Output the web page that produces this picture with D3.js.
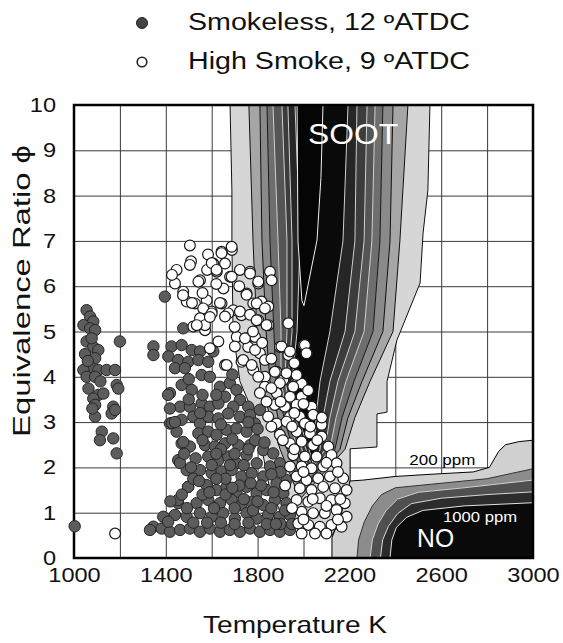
<!DOCTYPE html>
<html>
<head>
<meta charset="utf-8">
<script src="https://cdn.jsdelivr.net/npm/d3@7"></script>
<style>
  body { margin: 0; background: #fff; }
  text { font-family: "Liberation Sans", Arial, sans-serif; }
</style>
</head>
<body>
<div id="chart"></div>
<script>
// tick labels and grid
var xTicks = [1000, 1400, 1800, 2200, 2600, 3000];
var yTicks = [0, 1, 2, 3, 4, 5, 6, 7, 8, 9, 10];
var xGrid = [1200, 1400, 1600, 1800, 2000, 2200, 2400, 2600, 2800];
var yGrid = [1, 2, 3, 4, 5, 6, 7, 8, 9];
var legendLabels = ["Smokeless, 12 \u00baATDC", "High Smoke, 9 \u00baATDC"];

// soot contours [T, phi], outer -> inner
var sootLevels = [
  [[1680,10],[1688,8.1],[1688,7],[1693,5],[1723,3.9],[1789,3.1],[1819,2.4],[1850,1.6],[1900,1.0],[2000,0.75],[2124,0.5],[2190,1.1],[2203,1.72],[2203,2.41],[2320,2.45],[2320,3.18],[2364,3.22],[2364,3.9],[2407,4.81],[2420,4.97],[2508,6.07],[2521,7.17],[2542,8.12],[2551,10]],
  [[1762,10],[1780,7],[1797,5],[1819,3.9],[1854,3.1],[1898,2.4],[1985,1.3],[2181,2.4],[2224,3.1],[2290,3.9],[2390,5],[2420,7],[2455,10]],
  [[1810,10],[1819,7],[1837,5],[1854,3.9],[1889,3.1],[1928,2.4],[1998,1.45],[2159,2.4],[2194,3.1],[2255,3.9],[2346,5],[2377,7],[2390,10]],
  [[1841,10],[1854,7],[1871,5],[1880,3.9],[1915,3.1],[1954,2.4],[2011,1.6],[2137,2.4],[2168,3.1],[2220,3.9],[2303,5],[2333,7],[2346,10]],
  [[1867,10],[1889,7],[1902,5],[1902,3.9],[1932,3.1],[1976,2.4],[2020,1.75],[2115,2.4],[2142,3.1],[2185,3.9],[2264,5],[2298,7],[2312,10]],
  [[1906,10],[1928,7],[1928,5],[1919,3.9],[1950,3.1],[1993,2.4],[2028,1.9],[2094,2.4],[2115,3.1],[2150,3.9],[2224,5],[2264,7],[2277,10]],
  [[1932,10],[1950,7],[1950,5],[1932,3.9],[1963,3.1],[2011,2.4],[2037,2.0],[2072,2.4],[2085,3.1],[2115,3.9],[2181,5],[2224,7],[2233,10]],
  [[1963,10],[1985,7],[1972,5],[1950,3.9],[1976,3.1],[2024,2.4],[2041,2.1],[2050,2.4],[2054,3.1],[2072,3.9],[2115,5],[2172,7],[2194,10]],
  [[1972,10],[1976,7],[1993,5.68],[2002,5.57],[2015,5.9],[2059,7.02],[2076,8.4],[2085,10]]
];
var sootFill = ["#d6d6d6", "#a6a6a6", "#8a8a8a", "#6e6e6e", "#555555", "#3c3c3c", "#262626", "#0a0a0a", "#050505"];
var sootStroke = ["#111", "#111", "#111", "#1a1a1a", "#cfcfcf", "#cfcfcf", "#cfcfcf", "#cfcfcf", "#f0f0f0"];

// NO contours [T, phi], outer -> inner
var noLevels = [
  [[2124,0],[2124,0.45],[2160,0.9],[2203,1.7],[2260,1.72],[2400,1.8],[2560,1.85],[2740,1.9],[2810,2.0],[2850,2.35],[2880,2.5],[2940,2.57],[3000,2.6],[3000,0]],
  [[2233,0],[2240,0.4],[2265,0.8],[2300,1.15],[2340,1.4],[2400,1.55],[2600,1.65],[2800,1.75],[3000,1.97],[3000,0]],
  [[2290,0],[2300,0.4],[2325,0.75],[2360,1.05],[2410,1.3],[2500,1.45],[2700,1.55],[3000,1.72],[3000,0]],
  [[2335,0],[2345,0.4],[2370,0.7],[2410,0.98],[2470,1.2],[2600,1.32],[2800,1.4],[3000,1.46],[3000,0]],
  [[2377,0],[2385,0.4],[2405,0.68],[2450,0.9],[2520,1.05],[2700,1.15],[3000,1.22],[3000,0]]
];
var noFill = ["#d0d0d0", "#8c8c8c", "#505050", "#2c2c2c", "#0a0a0a"];
var noStroke = ["#000", "#333", "#d0d0d0", "#d8d8d8", "#e0e0e0"];

// Smokeless, 12 ATDC  [T K, phi]
var smokeless = [
  [1003,0.7],[1055,5.47],[1070,5.33],[1084,5.22],[1041,5.14],[1070,5.07],[1092,5.03],[1055,4.78],[1084,4.66],
  [1106,4.59],[1092,4.41],[1070,4.22],[1041,4.15],[1106,4.15],[1142,4.15],[1179,4.15],[1055,4.0],[1092,4.0],
  [1186,3.82],[1063,3.74],[1106,3.6],[1084,3.52],[1128,3.63],[1092,3.38],[1171,3.34],[1092,3.12],[1164,3.19],
  [1179,3.27],[1121,2.79],[1113,2.6],[1171,2.64],[1186,2.31],[1200,4.78],[1193,3.74],[1048,4.5],[1077,4.85],
  [1115,3.9],[1080,3.3],[1060,4.35],
  [1396,5.77],[1476,5.07],[1346,4.67],[1346,4.48],
  [1425,4.67],[1469,4.70],[1513,4.59],[1549,4.56],[1411,4.45],[1454,4.37],[1498,4.33],[1542,4.37],[1585,4.33],
  [1440,4.19],[1483,4.19],[1607,4.56],[1556,4.04],[1592,4.0],[1469,3.82],[1513,3.71],[1418,3.64],[1636,3.78],
  [1679,3.86],[1708,3.71],[1658,3.56],[1462,3.34],[1505,3.34],[1556,3.41],[1592,3.34],[1629,3.41],[1723,3.49],
  [1759,3.34],[1694,3.34],[1418,2.97],[1469,3.05],[1520,3.12],[1549,2.97],[1585,3.12],[1629,3.08],[1672,3.19],
  [1723,3.12],[1767,3.16],[1810,3.27],[1447,2.79],[1542,2.75],[1585,2.79],[1621,2.72],[1665,2.83],[1708,2.86],
  [1752,2.79],[1788,2.97],[1469,2.53],[1505,2.46],[1571,2.49],[1614,2.46],[1658,2.53],[1716,2.49],[1767,2.49],
  [1825,2.38],[1868,2.31],[1454,2.16],[1585,2.24],[1629,2.16],[1672,2.24],[1708,2.09],[1752,2.27],[1796,2.09],
  [1897,2.09],[1854,2.02],[1491,1.94],[1549,1.94],[1600,1.87],[1643,1.91],[1687,1.94],[1730,1.80],[1774,1.87],
  [1825,1.80],[1926,1.72],[1883,1.65],[1498,1.57],[1578,1.61],[1621,1.50],[1665,1.57],[1708,1.46],[1752,1.57],
  [1796,1.43],[1839,1.50],[1912,1.43],[1454,1.21],[1534,1.21],[1585,1.28],[1636,1.21],[1687,1.28],[1730,1.17],
  [1774,1.24],[1825,1.17],[1875,1.28],[1926,1.21],[1389,0.91],[1440,0.95],[1491,0.91],[1549,0.99],[1600,0.91],
  [1650,0.99],[1701,0.87],[1752,0.99],[1796,0.87],[1846,0.95],[1897,0.91],[1941,0.95],[1346,0.69],[1382,0.65],
  [1418,0.58],[1462,0.62],[1505,0.65],[1549,0.58],[1592,0.65],[1636,0.58],[1679,0.62],[1723,0.58],[1767,0.65],
  [1810,0.58],[1854,0.62],[1897,0.58],[1941,0.62],[1331,0.62],[1410,3.6],[1427,2.98],[1476,2.56],[1462,2.1],
  [1497,1.57],[1453,1.28],[1492,1.10],[1418,3.30],[1520,1.75],[1560,1.4],[1610,1.1],[1660,1.75],[1700,2.3],
  [1740,2.05],[1790,2.6],[1815,1.6],[1860,1.1],[1900,0.75],[1530,2.2],[1600,2.05],[1560,2.6],[1640,2.95],
  [1690,2.62],[1740,1.3],[1780,1.05],[1840,0.75],[1700,1.1],[1620,1.75],[1520,0.78],[1580,0.78],[1640,0.78],
  [1700,0.75],[1760,0.78],[1620,3.6],[1560,3.6],[1500,3.95],
  [1760,3.0],[1800,2.85],[1830,2.55],[1480,2.3],[1510,2.0],[1545,1.7],[1590,1.45],[1660,1.4],[1720,1.6],
  [1770,1.65],[1870,1.45],[1900,1.9],[1860,1.85],[1420,1.25],[1410,0.8],[1470,1.4],[1640,2.4],[1680,2.05],
  [1760,2.4],[1620,2.3],[1550,3.2],[1500,3.5],[1440,3.0],[1690,1.55],[1800,1.25],[1880,0.75],[1950,0.75],
  [1920,1.05],[1690,4.05]
];

// High Smoke, 9 ATDC  [T K, phi]
var highSmoke = [
  [1179,0.54],
  [1505,6.9],[1510,6.55],[1584,6.7],[1580,6.36],[1658,6.5],[1688,6.8],[1687,6.87],[1643,6.76],[1607,6.50],
  [1622,6.32],[1549,6.13],[1723,6.36],[1767,6.32],[1854,6.32],[1861,6.13],[1803,6.06],[1680,6.21],[1651,5.95],
  [1578,5.69],[1643,5.62],[1694,5.47],[1600,5.44],[1563,5.25],[1752,5.84],[1781,5.62],[1817,5.66],[1847,5.55],
  [1730,5.36],[1803,5.25],[1847,5.14],[1571,5.03],[1709,4.88],[1752,4.85],[1789,4.88],[1759,4.66],[1810,4.52],
  [1897,4.66],[1934,4.48],[2000,4.7],[2014,4.52],[1934,5.18],[1730,4.33],[1781,4.15],[1832,4.0],[1883,4.11],
  [1912,3.93],[1970,4.0],[1992,3.85],[1658,4.26],
  [1447,6.36],[1505,6.47],[1600,6.51],[1440,6.06],[1476,5.88],[1542,6.10],[1621,6.36],[1643,6.73],[1491,5.66],
  [1527,5.62],[1563,5.51],[1600,5.40],[1549,5.29],[1520,5.11],[1571,5.14],[1687,6.21],[1767,6.28],[1803,6.10],
  [1752,5.81],[1796,5.62],[1832,5.51],[1723,5.44],[1767,5.37],[1672,5.40],[1658,5.33],[1796,5.25],[1839,5.14],
  [1629,4.78],[1592,4.63],[1701,4.67],[1745,4.85],[1789,4.59],[1832,4.37],[1737,4.37],[1774,4.26],[1665,4.26],
  [1904,4.67],[1941,4.56],[2006,4.70],[2013,4.52],[1875,4.11],[1926,4.08],[1970,4.04],[1803,4.0],[1832,3.78],
  [1897,3.86],[1955,3.78],[1883,3.64],[1941,3.56],[1992,3.56],[1810,3.64],[1875,3.38],[1919,3.34],[1970,3.38],
  [2035,3.34],[2042,3.16],[1984,3.12],[1941,3.12],[1883,2.97],[1926,3.01],[2006,2.97],[2079,2.94],[1970,2.79],
  [2028,2.75],[2079,2.68],[1897,2.72],[1941,2.53],[1992,2.57],[2042,2.49],[2108,2.46],[1955,2.27],[2006,2.24],
  [2057,2.24],[2122,2.27],[1941,2.02],[1992,2.02],[2035,1.98],[2086,2.02],[2144,2.09],[1970,1.80],[2013,1.72],
  [2064,1.76],[2115,1.80],[2173,1.76],[1984,1.54],[2035,1.50],[2086,1.57],[2137,1.54],[2188,1.50],[1970,1.28],
  [2021,1.24],[2071,1.32],[2122,1.28],[2180,1.21],[1992,1.02],[2042,0.99],[2093,0.99],[2144,1.06],[2188,0.91],
  [1977,0.76],[2021,0.73],[2071,0.69],[2122,0.73],[2166,0.69],[1992,0.54],[2050,0.54],[2100,0.54],[1839,3.45],
  [1846,3.12],[1427,6.25],[1475,5.8],[1514,5.63],[1592,5.32],[1636,5.63],[1535,5.14],
  [1860,3.75],[1900,3.45],[1960,3.2],[2000,3.4],[2020,3.7],[1860,2.9],[1910,2.6],[1960,2.4],[2060,2.6],
  [2100,2.1],[2150,1.9],[2160,1.3],[2150,0.85],[2000,1.9],[2040,1.3],[2000,0.85],[2100,1.15],[1950,1.1],
  [1920,1.6],[1950,2.9],[2030,2.9],[2080,3.1],[1780,5.0],[1700,5.1],[1720,6.0],[1560,5.85],[1620,6.05],
  [1820,4.75],[1860,4.4],[1960,4.3]
];

// svg container
var svgWidth = 563;
var svgHeight = 643;

var margin = { top: 105, right: 30, bottom: 85, left: 74 };
var chartWidth = svgWidth - margin.left - margin.right;
var chartHeight = svgHeight - margin.top - margin.bottom;

var svg = d3.select("#chart")
  .append("svg")
  .attr("width", svgWidth)
  .attr("height", svgHeight);

var chartGroup = svg.append("g")
  .attr("transform", `translate(${margin.left}, ${margin.top})`);

var xScale = d3.scaleLinear().domain([1000, 3000]).range([0, chartWidth]);
var yScale = d3.scaleLinear().domain([0, 10]).range([chartHeight, 0]);

// make text a bit wider, like the original typeface
function stretch(sel, k) {
  sel.each(function() {
    var w = this.getComputedTextLength();
    d3.select(this).attr("textLength", w * k).attr("lengthAdjust", "spacingAndGlyphs");
  });
}

chartGroup.append("defs").append("clipPath").attr("id", "plotClip")
  .append("rect").attr("width", chartWidth).attr("height", chartHeight);

// grid lines
var gx = chartGroup.append("g")
  .attr("transform", `translate(0, ${chartHeight})`)
  .call(d3.axisBottom(xScale).tickValues(xGrid).tickSize(-chartHeight).tickFormat(""));
var gy = chartGroup.append("g")
  .call(d3.axisLeft(yScale).tickValues(yGrid).tickSize(-chartWidth).tickFormat(""));
[gx, gy].forEach(function(g) {
  g.select(".domain").remove();
  g.selectAll("line").attr("stroke", "#3a3a3a").attr("stroke-width", 1);
});

var contourLine = d3.line()
  .x(d => xScale(d[0]))
  .y(d => yScale(d[1]));

var maps = chartGroup.append("g").attr("clip-path", "url(#plotClip)");

maps.selectAll(".soot")
  .data(sootLevels)
  .enter().append("path")
  .attr("class", "soot")
  .attr("d", d => contourLine(d) + "Z")
  .attr("fill", (d, i) => sootFill[i])
  .attr("stroke", (d, i) => sootStroke[i])
  .attr("stroke-width", 1);

maps.selectAll(".no")
  .data(noLevels)
  .enter().append("path")
  .attr("class", "no")
  .attr("d", d => contourLine(d) + "Z")
  .attr("fill", (d, i) => noFill[i])
  .attr("stroke", (d, i) => noStroke[i])
  .attr("stroke-width", 1);

// map labels
var mapLabels = chartGroup.append("g");
mapLabels.append("text").text("SOOT")
  .attr("x", xScale(2020)).attr("y", yScale(9.13))
  .attr("font-size", 30).attr("fill", "#fff")
  .attr("textLength", 90).attr("lengthAdjust", "spacingAndGlyphs");
mapLabels.append("text").text("200 ppm")
  .attr("x", xScale(2461)).attr("y", yScale(2.05))
  .attr("font-size", 15).attr("fill", "#000")
  .attr("textLength", 66).attr("lengthAdjust", "spacingAndGlyphs");
mapLabels.append("text").text("1000 ppm")
  .attr("x", xScale(2608)).attr("y", yScale(0.8))
  .attr("font-size", 15).attr("fill", "#fff")
  .attr("textLength", 74).attr("lengthAdjust", "spacingAndGlyphs");
mapLabels.append("text").text("NO")
  .attr("x", xScale(2495)).attr("y", yScale(0.24))
  .attr("font-size", 25).attr("fill", "#fff")
  .attr("textLength", 37).attr("lengthAdjust", "spacingAndGlyphs");

// frame
chartGroup.append("rect")
  .attr("width", chartWidth).attr("height", chartHeight)
  .attr("fill", "none").attr("stroke", "#000").attr("stroke-width", 2.5);

// points
chartGroup.append("g").selectAll("circle")
  .data(smokeless)
  .enter().append("circle")
  .attr("cx", d => xScale(d[0]))
  .attr("cy", d => yScale(d[1]))
  .attr("r", 5.7)
  .attr("fill", "#5c5c5c")
  .attr("stroke", "#262626")
  .attr("stroke-width", 1);

chartGroup.append("g").selectAll("circle")
  .data(highSmoke)
  .enter().append("circle")
  .attr("cx", d => xScale(d[0]))
  .attr("cy", d => yScale(d[1]))
  .attr("r", 5.4)
  .attr("fill", "#fff")
  .attr("stroke", "#1a1a1a")
  .attr("stroke-width", 1.2);

// axes
var xAxis = chartGroup.append("g")
  .attr("transform", `translate(0, ${chartHeight})`)
  .call(d3.axisBottom(xScale).tickValues(xTicks).tickSize(0).tickPadding(9).tickFormat(d3.format("d")));
var yAxis = chartGroup.append("g")
  .call(d3.axisLeft(yScale).tickValues(yTicks).tickSize(0).tickPadding(18).tickFormat(d3.format("d")));
[xAxis, yAxis].forEach(function(g) {
  g.select(".domain").remove();
  g.selectAll("text").attr("font-size", 20.5).attr("fill", "#111")
    .style("font-family", "'Liberation Sans', Arial, sans-serif");
  stretch(g.selectAll("text"), 1.15);
});

// axis titles
svg.append("text").text("Temperature K")
  .attr("x", 295).attr("y", 633)
  .attr("text-anchor", "middle")
  .attr("font-size", 24).attr("fill", "#111")
  .attr("textLength", 184).attr("lengthAdjust", "spacingAndGlyphs");

svg.append("text").text("Equivalence Ratio \u03d5")
  .attr("transform", "translate(30, 291) rotate(-90)")
  .attr("text-anchor", "middle")
  .attr("font-size", 24).attr("fill", "#111")
  .attr("textLength", 292).attr("lengthAdjust", "spacingAndGlyphs");

// legend
var legend = svg.append("g");
legendLabels.forEach(function(label, i) {
  var yPos = 23 + i * 39;
  legend.append("circle")
    .attr("cx", 142).attr("cy", yPos)
    .attr("r", i === 0 ? 5.5 : 4.8)
    .attr("fill", i === 0 ? "#444" : "#fff")
    .attr("stroke", "#222")
    .attr("stroke-width", i === 0 ? 1 : 1.6);
  legend.append("text").text(label)
    .attr("x", 188).attr("y", yPos + 7)
    .attr("font-size", 23).attr("fill", "#111")
    .attr("textLength", 282).attr("lengthAdjust", "spacingAndGlyphs");
});
</script>
</body>
</html>
